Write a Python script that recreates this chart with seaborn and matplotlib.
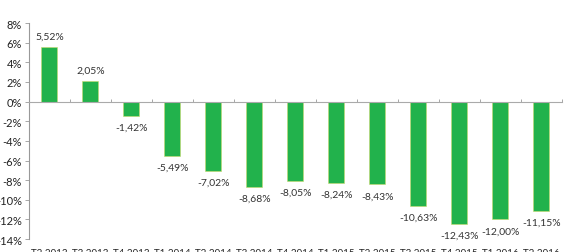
import matplotlib
matplotlib.use("Agg")
import matplotlib.pyplot as plt
import matplotlib.transforms as mtransforms
import seaborn as sns
import pandas as pd

# quarters and year-on-year change (%)
quarters = ["T2 2013", "T3 2013", "T4 2013", "T1 2014", "T2 2014", "T3 2014", "T4 2014",
            "T1 2015", "T2 2015", "T3 2015", "T4 2015", "T1 2016", "T2 2016"]
changes = [5.52, 2.05, -1.42, -5.49, -7.02, -8.68, -8.05, -8.24, -8.43, -10.63, -12.43, -12.00, -11.15]
yticks = [8, 6, 4, 2, 0, -2, -4, -6, -8, -10, -12, -14]

df = pd.DataFrame({"quarter": quarters, "change": changes})

sns.set_style("white")
plt.rcParams['font.family'] = ['Lato', 'DejaVu Sans']

fig = plt.figure(figsize=(5.64, 2.53), dpi=100)
ax = fig.add_axes([0.0514, 0.051, 0.945, 0.854])

sns.barplot(data=df, x="quarter", y="change", color="#22b24c", width=0.39,
            edgecolor="#c9d86a", linewidth=0.4, saturation=1, ax=ax)

ax.bar_label(ax.containers[0], fmt=lambda v: f"{v:.2f}%".replace(".", ","),
             padding=5, fontsize=7.5, color="#333333")

ax.set_ylim(-14, 8)
ax.set_xlim(-0.5, len(quarters) - 0.5)
ax.set_yticks(yticks)
ax.set_yticklabels([f"{t}%" for t in yticks], fontsize=8, color="#222222")
ax.tick_params(axis="y", length=3, width=0.6, color="#999999", pad=2, left=True)

# zero line with small ticks between categories
for s in ["top", "right"]:
    ax.spines[s].set_visible(False)
ax.spines["left"].set_color("#999999")
ax.spines["left"].set_linewidth(0.8)
ax.spines["bottom"].set_position(("data", 0))
ax.spines["bottom"].set_color("#aaaaaa")
ax.spines["bottom"].set_linewidth(0.8)
ax.set_xticks([i + 0.5 for i in range(len(quarters))])
ax.set_xticklabels([])
ax.tick_params(axis="x", direction="in", length=2.5, width=0.6, color="#999999", bottom=True)
ax.set_xlabel("")
ax.set_ylabel("")

# category labels at the bottom of the plot
trans = mtransforms.blended_transform_factory(ax.transData, ax.transAxes)
for i, q in enumerate(quarters):
    ax.text(i, -0.04, q, transform=trans, ha="center", va="top", fontsize=7, color="#222222")

fig.savefig("out.png", dpi=100)
